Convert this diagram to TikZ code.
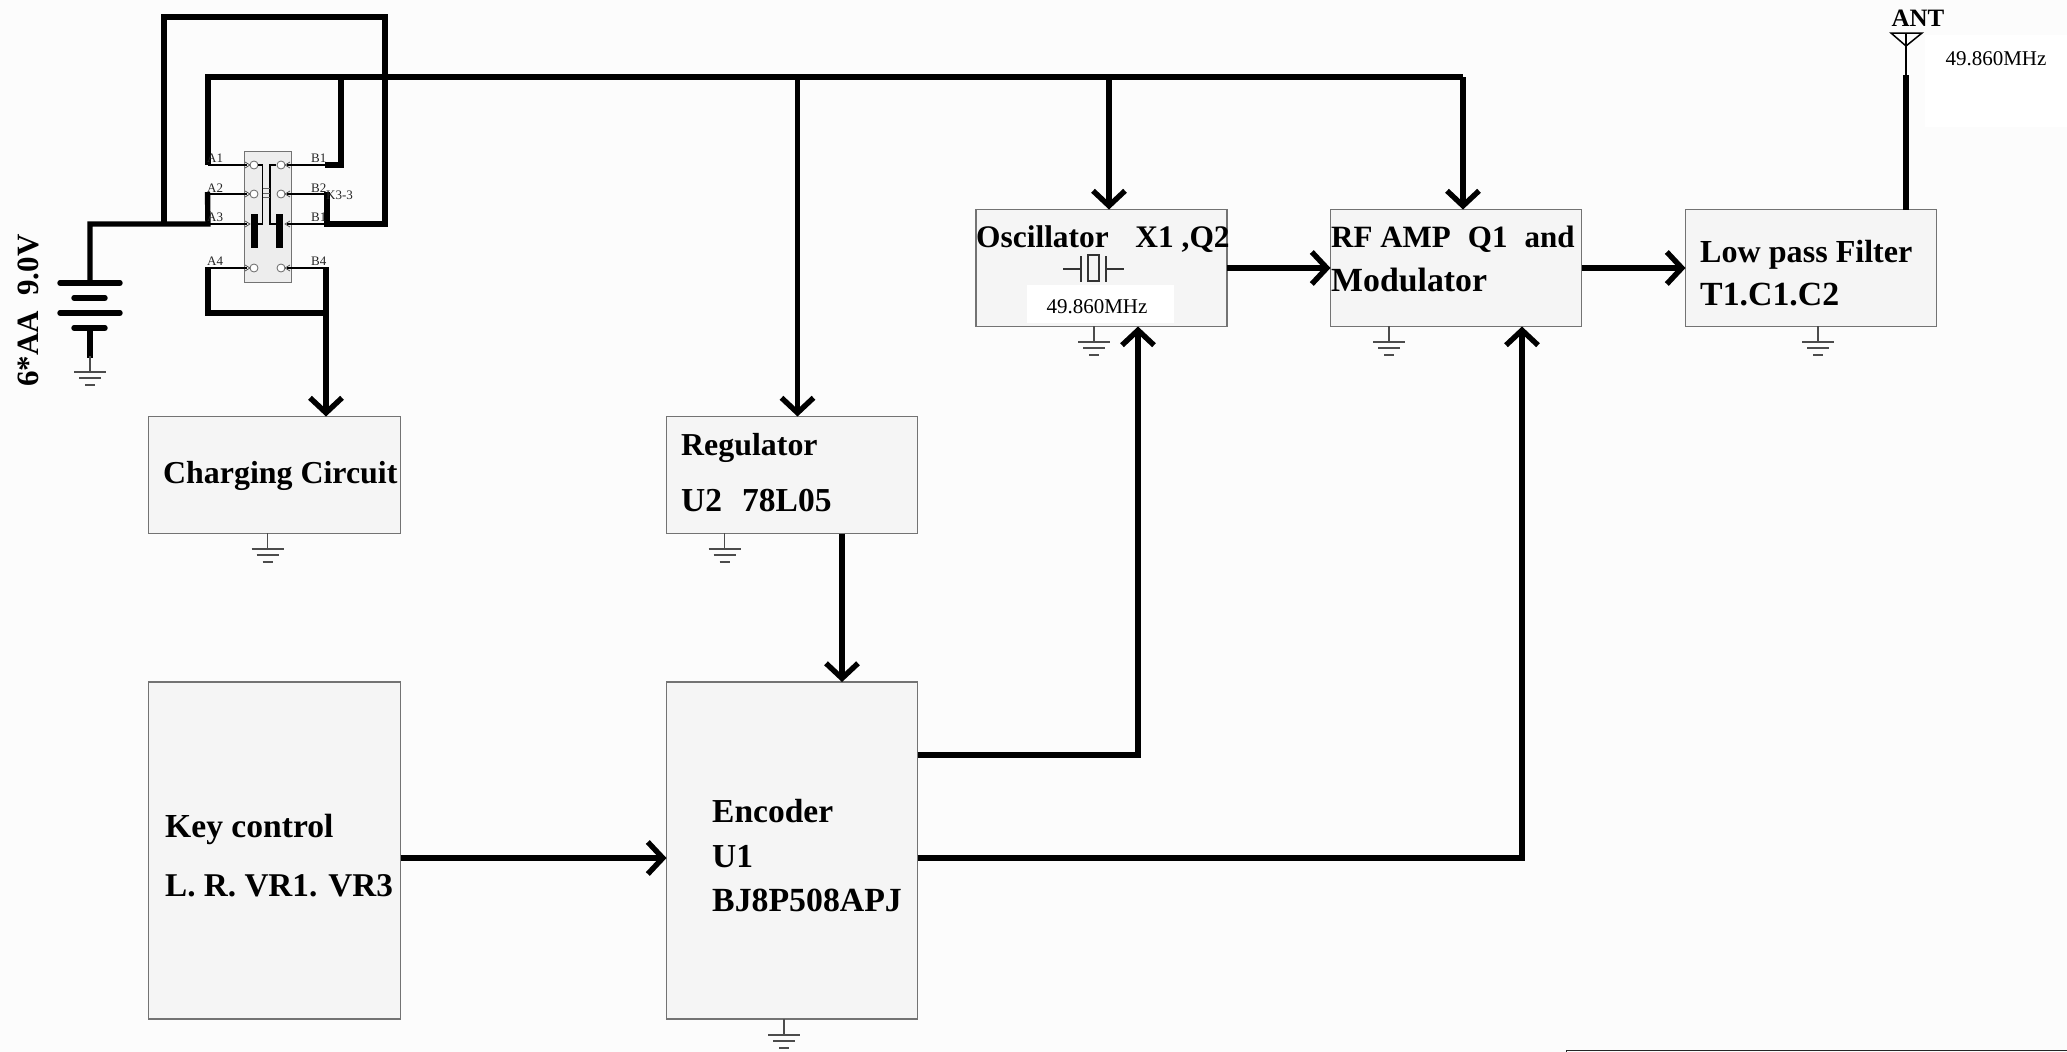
\documentclass[tikz,border=0pt]{standalone}
\usepackage{fontspec}
\setmainfont{Liberation Serif}
\usetikzlibrary{arrows.meta,calc}
\newcommand{\fsz}[1]{\fontsize{#1}{#1}\selectfont}
\tikzset{
 x=1pt,y=-1pt,
 wire/.style={line width=5.4pt,draw=black,line join=miter},
 awire/.style={wire,-{Straight Barb[length=15pt,width=32pt,line width=5.4pt]}},
 thin wire/.style={line width=1.6pt,draw=black},
 block/.style={draw=black!55,fill=black!4,line width=1.2pt,minimum width=#1,inner sep=0pt,outer sep=0pt},
 lab/.style={anchor=base west,inner sep=0pt,font=\fsz{#1}\bfseries},
 lab/.default=32,
 pin/.style={anchor=base west,inner sep=0pt,font=\fsz{13},text=black!85},
 gndline/.style={line width=1.1pt,draw=black!70},
 freq/.style={inner sep=0pt,font=\fsz{21}},
}
% ground symbol at its top point
\newcommand{\gnd}[2]{%
 \draw[gndline] (#1,#2) -- (#1,#2+16);
 \draw[gndline] (#1-16,#2+16) -- (#1+16,#2+16);
 \draw[gndline] (#1-11,#2+22) -- (#1+11,#2+22);
 \draw[gndline] (#1-5,#2+29) -- (#1+5,#2+29);}
\begin{document}
\begin{tikzpicture}
\useasboundingbox (0,0) rectangle (2067,1052);
\fill[black!1] (0,0) rectangle (2067,1052);
\fill[white] (1925,35) rectangle (2067,127);
\draw[line width=1.6pt,draw=black!85] (1566.5,1052) -- (1566.5,1050.5) -- (2067,1050.5);

% blocks
\node[block=252pt,minimum height=117pt] (chg) at (274.5,475) {};
\node[block=251pt,minimum height=117pt] (reg) at (792,475) {};
\node[block=252pt,minimum height=337pt] (key) at (274.5,850.5) {};
\node[block=251pt,minimum height=337pt] (enc) at (792,850.5) {};
\node[block=251pt,minimum height=117pt] (osc) at (1101.5,268) {};
\node[block=251pt,minimum height=117pt] (rf) at (1456,268) {};
\node[block=251pt,minimum height=117pt] (lpf) at (1811,268) {};

% column and row helpers
\coordinate (c1) at (326,77);
\coordinate (c2) at (797.5,77);
\coordinate (c3) at (1109,77);
\coordinate (c4) at (1463,77);
\coordinate (c5) at (842,0);
\coordinate (c6) at (1138,755);
\coordinate (c7) at (1522,858);
\coordinate (c8) at (1906,75);

% power bus
\draw[wire] (208,165) -- (208,77) -- (c4);
\draw[wire] (325,165) -- (341,165) -- (341,77);
\draw[awire] (c2) -- (reg.north -| c2);
\draw[awire] (c3) -- (osc.north -| c3);
\draw[awire] (c4) -- (rf.north -| c4);

% switch wiring
\draw[wire] (90,283) -- (90,224) -- (208,224) -- (207.5,192);
\draw[wire] (164,224) -- (164,17) -- (385,17) -- (385,224) -- (327,224) -- (327,192);
\draw[wire] (208,267) -- (208,313) -- (326,313);
\draw[awire] (326,267) -- (chg.north -| c1);

% signal connections
\draw[awire] (reg.south -| c5) -- (enc.north -| c5);
\draw[awire] (enc.east |- c6) -- (c6) -- (osc.south -| c6);
\draw[awire] (enc.east |- c7) -- (c7) -- (rf.south -| c7);
\draw[awire] (key.east |- c7) -- (enc.west |- c7);
\draw[awire] (osc.east) -- (rf.west);
\draw[awire] (rf.east) -- (lpf.west);
\draw[wire] (lpf.north -| c8) -- (c8);

% antenna
\draw[line width=1.6pt] (c8) -- (1906,33);
\draw[line width=1.5pt,line join=miter] (1891,33) -- (1922,33) -- (1906,46) -- cycle;

% battery
\draw[wire,line cap=round] (60,283) -- (120,283);
\draw[wire,line cap=round] (74,298) -- (105,298);
\draw[wire,line cap=round] (60,313) -- (120,313);
\draw[wire,line cap=round] (74,328) -- (105,328);
\draw[wire] (90,328) -- (90,358);
\draw[gndline] (90,358) -- (90,372);
\gnd{90}{356}

% grounds
\gnd{267.5}{533}
\gnd{724.5}{533}
\gnd{784}{1019}
\gnd{1094}{326}
\gnd{1389}{326}
\gnd{1818}{326}

% switch
\node[draw=black!55,fill=black!7,line width=1pt,minimum width=47pt,minimum height=131pt,inner sep=0pt] (sw) at (267.5,216.5) {};
\foreach \yy/\n in {165/1,194/2,268/4}{
  \draw[line width=0.8pt,draw=black!60,fill=white] (254,\yy) circle (4);
  \draw[line width=0.8pt,draw=black!60,fill=white] (281,\yy) circle (4);
}
\foreach \yy in {165,194,224,268}{
  \draw[thin wire] (208,\yy) -- (247,\yy);
  \draw[thin wire] (325,\yy) -- (287,\yy);
  \draw[line width=0.7pt,draw=black!70] (245,\yy-3) -- (250,\yy) -- (245,\yy+3);
  \draw[line width=0.7pt,draw=black!70] (290,\yy-3) -- (285,\yy) -- (290,\yy+3);
}
\draw[line width=1.3pt] (258,165) -- (262.5,165) -- (262.5,224) -- (258,224);
\draw[line width=1.3pt] (276,165) -- (270,165) -- (270,224) -- (276,224);
\fill[black] (251,214) rectangle (257.5,247.5);
\fill[black] (276,214) rectangle (282.5,247.5);
\draw[line width=0.7pt,draw=black!60] (262.5,188.5) -- (270,188.5) (262.5,193) -- (270,193) (262.5,197) -- (270,197);

% pin labels
\node[pin] (a1) at (207,162) {A1};
\node[pin] (a2) at (207,192) {A2};
\node[pin] (a3) at (207,221) {A3};
\node[pin] (a4) at (207,265) {A4};
\node[pin] (b1) at (311,162) {B1};
\node[pin] (b2) at (311,192) {B2};
\node[pin] (b3) at (311,221) {B1};
\node[pin] (b4) at (311,265) {B4};
\node[pin] (k33) at (326,199) {K3-3};

% crystal
\fill[white] (1027,285) rectangle (1174,323);
\draw[line width=1.1pt,draw=black!80] (1063,269) -- (1081,269) (1081,256) -- (1081,282) (1106,256) -- (1106,282) (1106,269) -- (1124,269);
\draw[line width=1.1pt,draw=black!80] (1088,255) rectangle (1099,281);
\node[freq] (fq1) at (1097,307) {49.860MHz};

% text
\node[lab=31.9] (t1) at (163,483) {Charging Circuit};
\node[lab=31.9] (t2) at (681,455) {Regulator};
\node[lab=33.5] (t3) at (681,511) {U2\hspace{0.6em}78L05};
\node[lab=33.6] (t4) at (165,837) {Key control};
\node[lab=33.2] (t5) at (165,896) {L. R. VR1. VR3};
\node[lab=33.5] (t6) at (712,822) {Encoder};
\node[lab=33.5] (t7) at (712,867) {U1};
\node[lab=33.8] (t8) at (712,911) {BJ8P508APJ};
\node[lab=31.4] (t9) at (976,247) {Oscillator\hspace{0.85em}X1 ,Q2};
\node[lab=31] (t10) at (1331,247) {RF AMP\hspace{0.55em}Q1\hspace{0.55em}and};
\node[lab=33.8] (t11) at (1331,291) {Modulator};
\node[lab=32.1] (t12) at (1700,262) {Low pass Filter};
\node[lab=33.8] (t13) at (1700,305) {T1.C1.C2};
\node[lab=31,rotate=90] (t14) at (38,387) {6*AA\hspace{0.5em}9.0V};
\node[lab=25,anchor=center] (t15) at (1918,18) {ANT};
\node[freq] (fq2) at (1996,59) {49.860MHz};
\end{tikzpicture}
\end{document}
